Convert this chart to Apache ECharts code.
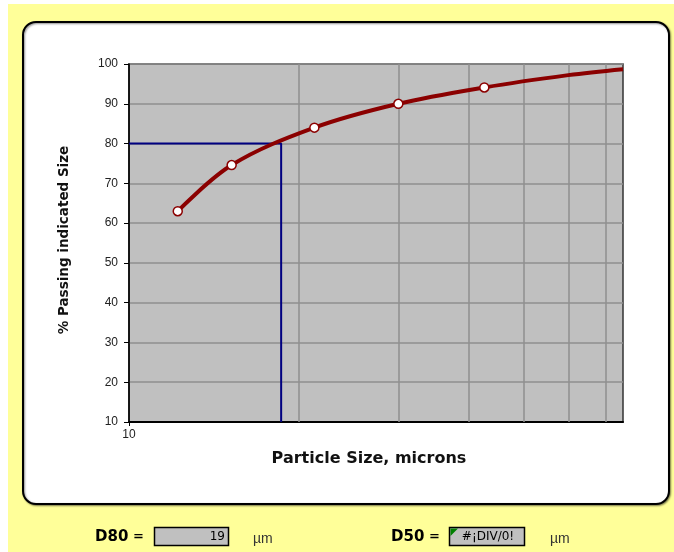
<!DOCTYPE html>
<html>
<head>
<meta charset="utf-8">
<script src="https://cdn.jsdelivr.net/npm/echarts@6/dist/echarts.min.js"></script>
<style>
  html, body { margin: 0; padding: 0; background: #ffffff; }
  #chart { width: 674px; height: 552px; }
</style>
</head>
<body>
<div id="chart"></div>
<script>
// Measured size distribution (cumulative % passing vs particle size, microns)
const sizes = [12.2, 15.2, 21.3, 30.0, 42.6];
const passing = [63.0, 74.6, 84.0, 90.0, 94.1];
// Smoothed extension of the fitted curve past the last measured size
const tailSizes = [60, 75];
const tailPassing = [97.2, 98.7];
// Log-axis minor gridlines
const gridSizes = [20, 30, 40, 50, 60, 70];
const yTicks = [10, 20, 30, 40, 50, 60, 70, 80, 90, 100];
// Interpolated D80 / D50
const d80 = 18.6;
const d50Text = '#¡DIV/0!';

const FONT = '"Liberation Sans", Arial, sans-serif';
const WIDE = '"DejaVu Sans", Verdana, sans-serif';

const curveData = sizes.map((s, i) => [s, passing[i]])
  .concat(tailSizes.map((s, i) => ({ value: [s, tailPassing[i]], symbol: 'none' })));

const chart = echarts.init(document.getElementById('chart'), null, { renderer: 'canvas' });

chart.setOption({
  backgroundColor: '#ffffff',
  animation: false,
  textStyle: { fontFamily: FONT },
  graphic: [
    { type: 'rect', z: -20, shape: { x: 8, y: 4, width: 666, height: 548 },
      style: { fill: '#FFFF99' } },
    { type: 'rect', z: -15, shape: { x: 23, y: 22, width: 646, height: 482, r: 13 },
      style: { fill: '#ffffff', stroke: '#000000', lineWidth: 2,
               shadowColor: 'rgba(0,0,0,0.45)', shadowBlur: 2, shadowOffsetX: 1, shadowOffsetY: 1 } },
    // D80 readout
    { type: 'text', x: 95, y: 537,
      style: { text: 'D80', font: 'bold 15px ' + WIDE, fill: '#000', verticalAlign: 'middle' } },
    { type: 'text', x: 133, y: 537,
      style: { text: '=', font: 'bold 13px ' + WIDE, fill: '#000', verticalAlign: 'middle' } },
    { type: 'rect', shape: { x: 154.5, y: 527.5, width: 74, height: 18 },
      style: { fill: '#C0C0C0', stroke: '#000', lineWidth: 1.5 } },
    { type: 'text', x: 225, y: 537,
      style: { text: d80.toFixed(0), font: '12px ' + WIDE, fill: '#000', align: 'right', verticalAlign: 'middle' } },
    { type: 'text', x: 253, y: 539,
      style: { text: 'µm', font: '14px ' + FONT, fill: '#333', verticalAlign: 'middle' } },
    // D50 readout
    { type: 'text', x: 391, y: 537,
      style: { text: 'D50', font: 'bold 15px ' + WIDE, fill: '#000', verticalAlign: 'middle' } },
    { type: 'text', x: 429, y: 537,
      style: { text: '=', font: 'bold 13px ' + WIDE, fill: '#000', verticalAlign: 'middle' } },
    { type: 'rect', shape: { x: 449.5, y: 527.5, width: 75, height: 18 },
      style: { fill: '#C0C0C0', stroke: '#000', lineWidth: 1.5 } },
    { type: 'polygon', shape: { points: [[450.5, 528.5], [458, 528.5], [450.5, 536]] },
      style: { fill: '#008000' } },
    { type: 'text', x: 488, y: 537,
      style: { text: d50Text, font: '12px ' + WIDE, fill: '#000', align: 'center', verticalAlign: 'middle' } },
    { type: 'text', x: 550, y: 539,
      style: { text: 'µm', font: '14px ' + FONT, fill: '#333', verticalAlign: 'middle' } }
  ],
  grid: {
    left: 129, right: 51, top: 64, bottom: 130,
    show: true, backgroundColor: '#C0C0C0', borderColor: '#333333', borderWidth: 1.5
  },
  xAxis: {
    type: 'log', logBase: 10, min: 10, max: 75,
    name: 'Particle Size, microns', nameLocation: 'middle', nameGap: 29,
    nameTextStyle: { fontFamily: WIDE, fontSize: 16, fontWeight: 'bold', color: '#111', padding: [0, 14, 0, 0] },
    axisLine: { show: true, onZero: false, lineStyle: { color: '#000', width: 2 } },
    axisTick: { show: true, inside: false, length: 4, lineStyle: { color: '#000' } },
    axisLabel: { fontFamily: FONT, fontSize: 12, color: '#222', margin: 7, showMaxLabel: false,
                 formatter: v => (Math.abs(v - 10) < 1e-6 ? '10' : '') },
    splitLine: { show: false },
    minorTick: { show: false }
  },
  yAxis: {
    type: 'value', min: 10, max: 100, interval: 10,
    name: '% Passing indicated Size', nameLocation: 'middle', nameGap: 58, nameRotate: 90,
    nameTextStyle: { fontFamily: WIDE, fontSize: 13.5, fontWeight: 'bold', color: '#111', padding: [0, 0, 0, 6] },
    axisLine: { show: true, lineStyle: { color: '#000', width: 1.5 } },
    axisTick: { show: true, inside: false, length: 5, lineStyle: { color: '#000' } },
    axisLabel: { fontFamily: FONT, fontSize: 12, color: '#222', margin: 11,
                 formatter: v => (yTicks.indexOf(v) >= 0 ? String(v) : '') },
    splitLine: { show: true, lineStyle: { color: '#8f8f8f', width: 1.5 } }
  },
  series: [
    {
      // vertical minor gridlines of the log axis
      type: 'line', data: [], z: 1, silent: true,
      markLine: {
        z: 1, silent: true, symbol: 'none', label: { show: false },
        lineStyle: { color: '#8f8f8f', width: 1.5, type: 'solid' },
        data: gridSizes.map(v => ({ xAxis: v }))
      }
    },
    {
      // D80 construction lines
      type: 'line', z: 8, silent: true, symbol: 'none',
      lineStyle: { color: '#000080', width: 2 },
      data: [[10, 80], [d80, 80], [d80, 10]]
    },
    {
      type: 'line', z: 10, smooth: 0.35,
      symbol: 'circle', symbolSize: 9, showSymbol: true,
      lineStyle: { color: '#8B0000', width: 4 },
      itemStyle: { color: '#ffffff', borderColor: '#8B0000', borderWidth: 1.5 },
      data: curveData
    }
  ]
});
</script>
</body>
</html>
